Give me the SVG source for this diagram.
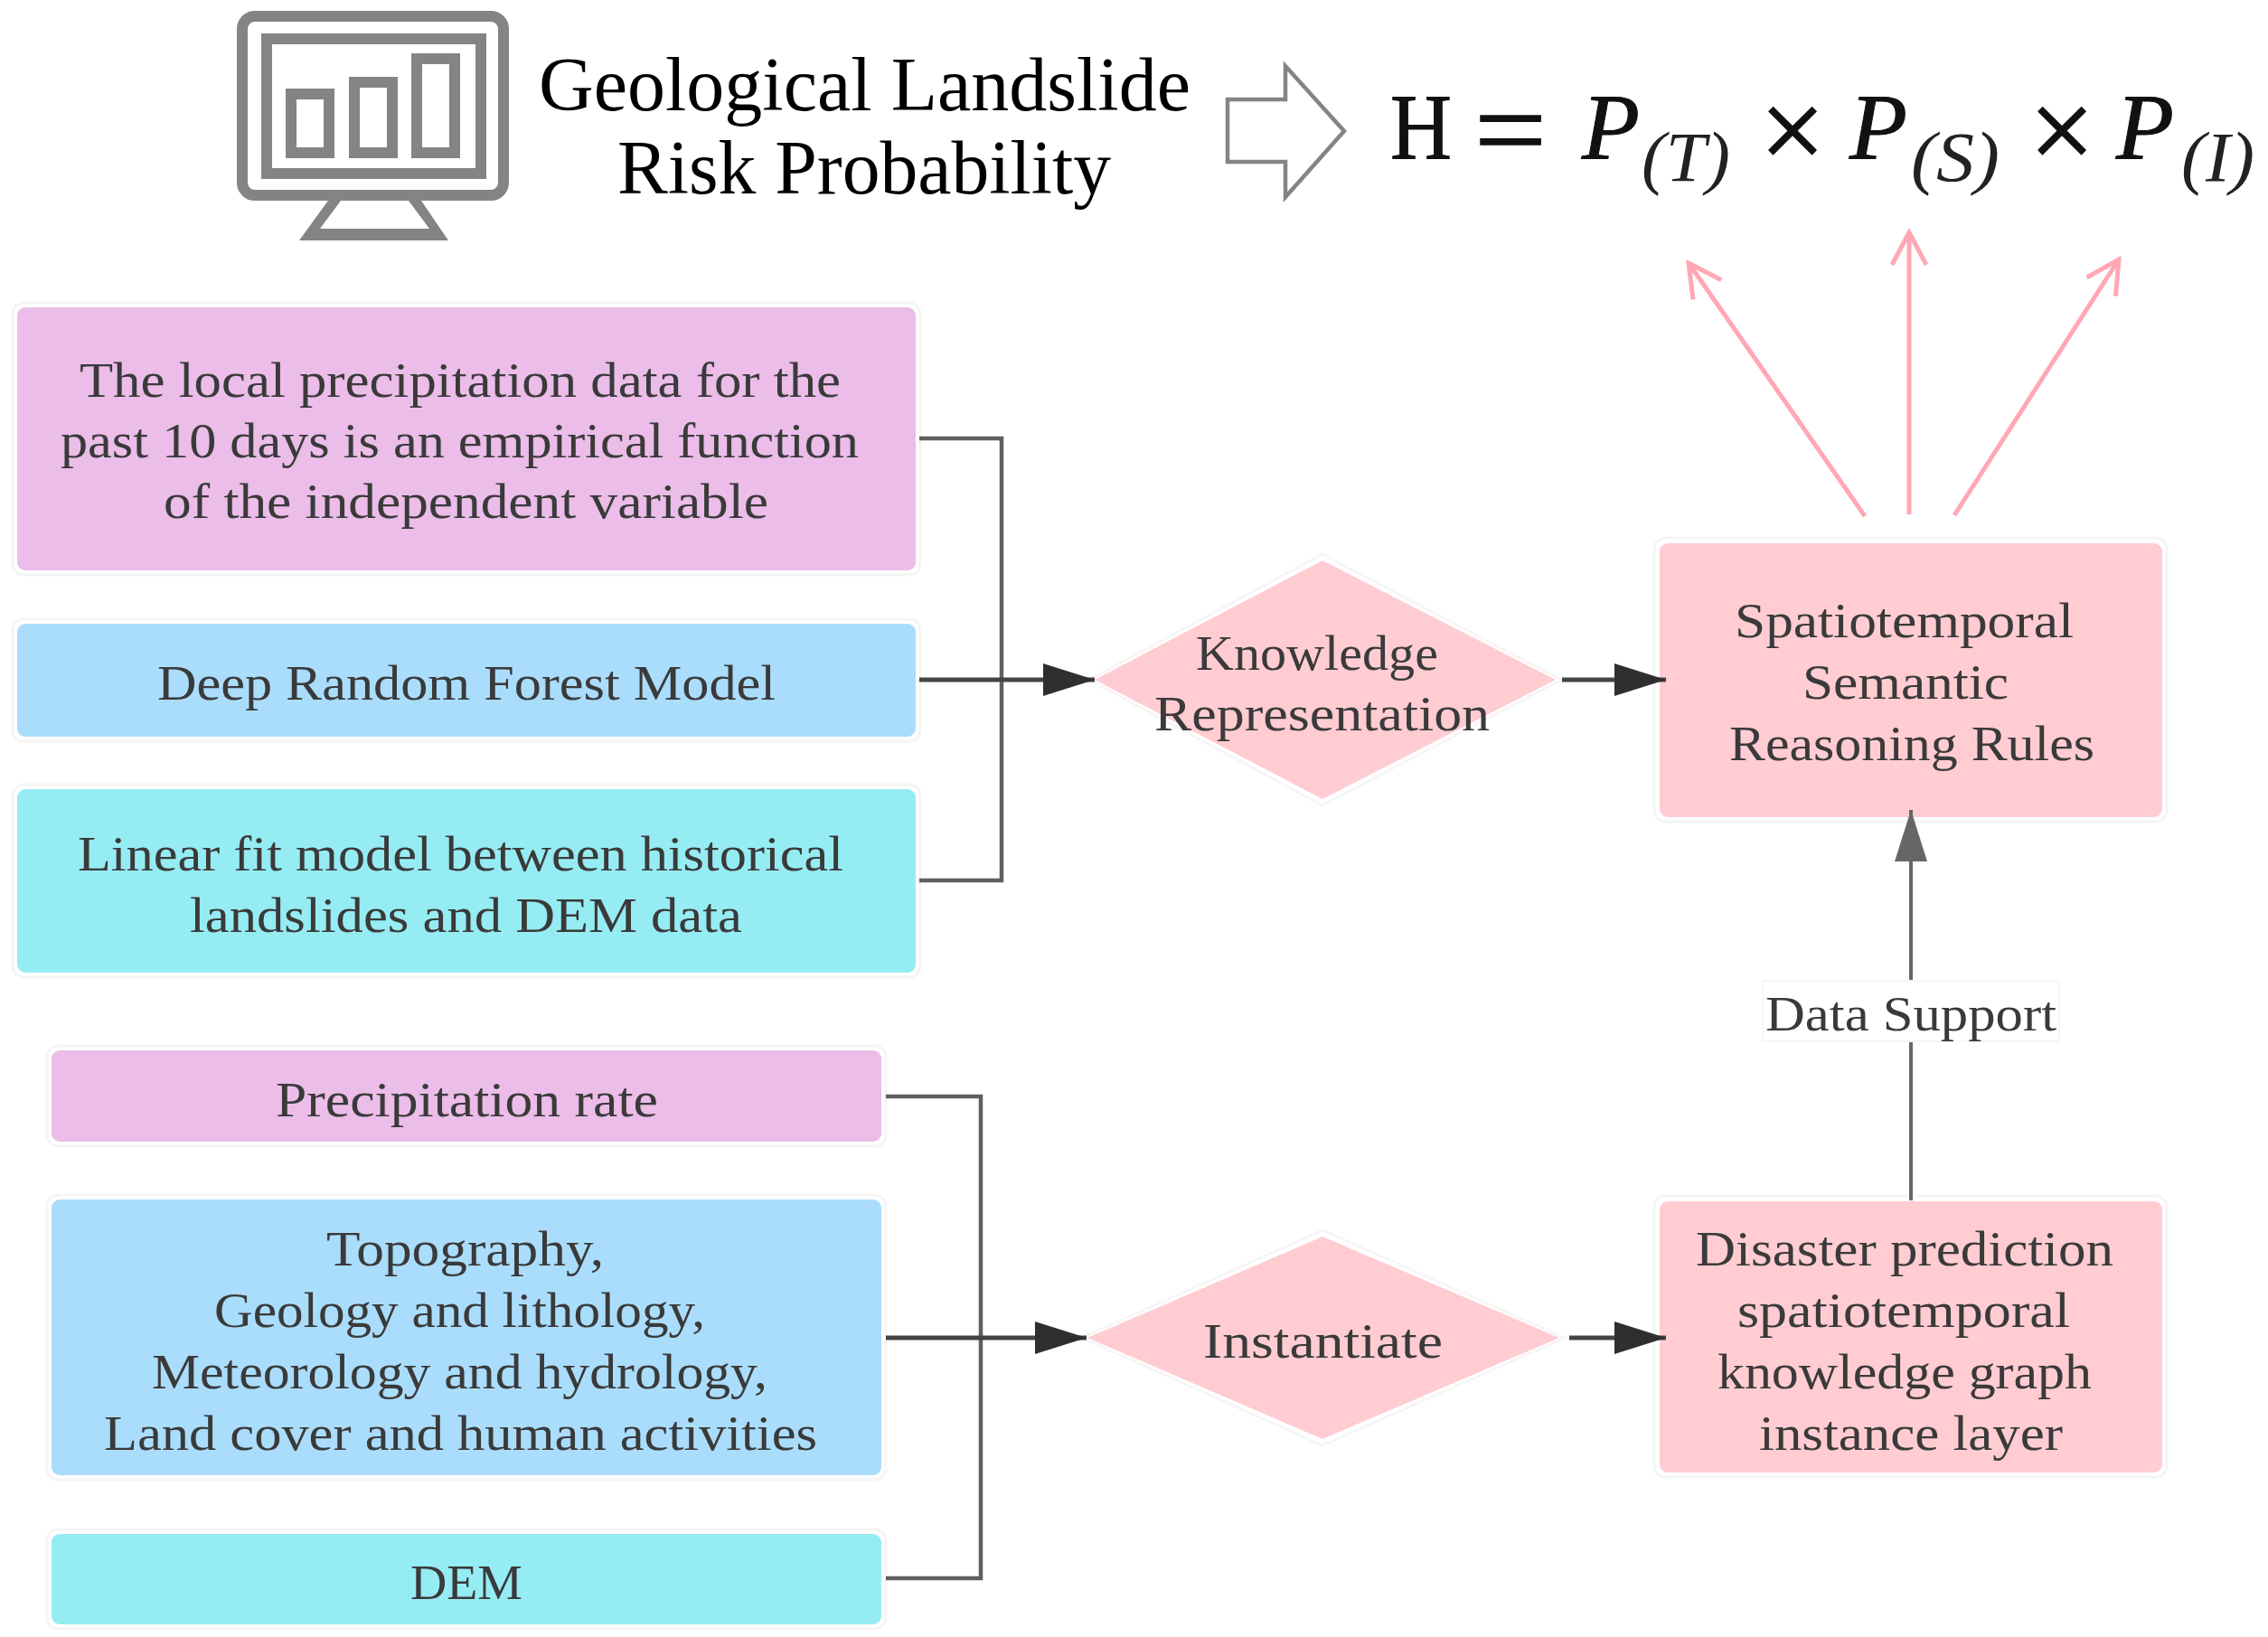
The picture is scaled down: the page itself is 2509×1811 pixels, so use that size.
<svg xmlns="http://www.w3.org/2000/svg" width="2509" height="1811" viewBox="0 0 2509 1811">
<style>
text{font-family:"Liberation Serif","Times New Roman",serif;fill:#3a3a3a;font-size:55px}
.t{fill:#000;font-size:84px}
.f{fill:#111;font-size:103px;stroke:#111;stroke-width:1}
.op{fill:#111;font-size:128px;stroke:#111;stroke-width:1.5}
.fi{fill:#111;font-size:103px;font-style:italic;stroke:#111;stroke-width:1}
.s{fill:#222;font-size:78px;font-style:italic}
.halo{fill:#fff;stroke:#f5f5f5;stroke-width:3}
.pur{fill:#ebbde8}.blu{fill:#aaddfc}.cya{fill:#96ecf3}.pnk{fill:#ffccd2}
.c{fill:none;stroke:#5f5f5f;stroke-width:4.5}
.k{fill:none;stroke:#444;stroke-width:5}
.g{fill:none;stroke:#666;stroke-width:4}
.p{fill:none;stroke:#ffa8b4;stroke-width:5}
.ic{fill:none;stroke:#848484;stroke-width:12}
</style>
<defs>
<marker id="dark" markerUnits="userSpaceOnUse" markerWidth="60" markerHeight="40" refX="58" refY="20" orient="auto"><path d="M1 2L58 20L1 38Z" fill="#2f2f2f"/></marker>
<marker id="grey" markerUnits="userSpaceOnUse" markerWidth="60" markerHeight="40" refX="58" refY="20" orient="auto"><path d="M1 2L58 20L1 38Z" fill="#666"/></marker>
<marker id="open" markerUnits="userSpaceOnUse" markerWidth="44" markerHeight="44" refX="40" refY="22" orient="auto"><path d="M4 3L40 22L4 41" fill="none" stroke="#ffa8b4" stroke-width="5"/></marker>
</defs>
<rect width="2509" height="1811" fill="#fff"/>
<g id="monitor-icon">
<rect class="ic" x="268" y="18" width="289" height="198" rx="14"/>
<rect class="ic" x="295" y="43" width="237" height="149"/>
<rect class="ic" x="322" y="104" width="42" height="65"/>
<rect class="ic" x="392" y="91" width="42" height="78"/>
<rect class="ic" x="461" y="65" width="42" height="104"/>
<path d="M363 222H377L354 253H475L452 222H466L496 266H331Z" fill="#848484"/>
</g>
<g id="title">
<text class="t" x="596" y="122" textLength="721" lengthAdjust="spacingAndGlyphs">Geological Landslide</text>
<text class="t" x="683" y="214" textLength="546" lengthAdjust="spacingAndGlyphs">Risk Probability</text>
</g>
<g id="big-arrow"><path d="M1358 110H1422V73L1487 145L1422 218V179H1358Z" fill="#fff" stroke="#848484" stroke-width="4.5"/></g>
<g id="formula">
<text class="f" x="1538" y="176" textLength="68" lengthAdjust="spacingAndGlyphs">H</text>
<text class="op" x="1631" y="186" textLength="80" lengthAdjust="spacingAndGlyphs">=</text>
<text class="fi" x="1750" y="176" textLength="64" lengthAdjust="spacingAndGlyphs">P</text>
<text class="s" x="1816" y="200" textLength="98" lengthAdjust="spacingAndGlyphs">(T)</text>
<text class="op" x="1947" y="187" textLength="72" lengthAdjust="spacingAndGlyphs">×</text>
<text class="fi" x="2046" y="176" textLength="64" lengthAdjust="spacingAndGlyphs">P</text>
<text class="s" x="2114" y="200" textLength="98" lengthAdjust="spacingAndGlyphs">(S)</text>
<text class="op" x="2245" y="187" textLength="72" lengthAdjust="spacingAndGlyphs">×</text>
<text class="fi" x="2341" y="176" textLength="64" lengthAdjust="spacingAndGlyphs">P</text>
<text class="s" x="2413" y="200" textLength="81" lengthAdjust="spacingAndGlyphs">(I)</text>
</g>
<g id="n-precip-func">
<rect class="halo" x="14" y="335" width="1004" height="301" rx="12"/>
<rect class="pur" x="19" y="340" width="994" height="291" rx="9"/>
<text x="88" y="439" textLength="842" lengthAdjust="spacingAndGlyphs">The local precipitation data for the</text>
<text x="67" y="506" textLength="883" lengthAdjust="spacingAndGlyphs">past 10 days is an empirical function</text>
<text x="181" y="573" textLength="669" lengthAdjust="spacingAndGlyphs">of the independent variable</text>
</g>
<g id="n-random-forest">
<rect class="halo" x="14" y="685" width="1004" height="135" rx="12"/>
<rect class="blu" x="19" y="690" width="994" height="125" rx="9"/>
<text x="174" y="774" textLength="684" lengthAdjust="spacingAndGlyphs">Deep Random Forest Model</text>
</g>
<g id="n-linear-fit">
<rect class="halo" x="14" y="868" width="1004" height="213" rx="12"/>
<rect class="cya" x="19" y="873" width="994" height="203" rx="9"/>
<text x="86" y="963" textLength="847" lengthAdjust="spacingAndGlyphs">Linear fit model between historical</text>
<text x="210" y="1031" textLength="611" lengthAdjust="spacingAndGlyphs">landslides and DEM data</text>
</g>
<g id="n-precip-rate">
<rect class="halo" x="52" y="1157" width="928" height="111" rx="12"/>
<rect class="pur" x="57" y="1162" width="918" height="101" rx="9"/>
<text x="305" y="1235" textLength="423" lengthAdjust="spacingAndGlyphs">Precipitation rate</text>
</g>
<g id="n-topography">
<rect class="halo" x="52" y="1322" width="928" height="315" rx="12"/>
<rect class="blu" x="57" y="1327" width="918" height="305" rx="9"/>
<text x="361" y="1400" textLength="307" lengthAdjust="spacingAndGlyphs">Topography,</text>
<text x="237" y="1468" textLength="543" lengthAdjust="spacingAndGlyphs">Geology and lithology,</text>
<text x="168" y="1536" textLength="681" lengthAdjust="spacingAndGlyphs">Meteorology and hydrology,</text>
<text x="115" y="1604" textLength="789" lengthAdjust="spacingAndGlyphs">Land cover and human activities</text>
</g>
<g id="n-dem">
<rect class="halo" x="52" y="1692" width="928" height="110" rx="12"/>
<rect class="cya" x="57" y="1697" width="918" height="100" rx="9"/>
<text x="454" y="1769" textLength="124" lengthAdjust="spacingAndGlyphs">DEM</text>
</g>
<g id="n-knowledge">
<path d="M1463 613L1727 752L1463 891L1205 752Z" fill="#fff" stroke="#f6f6f6" stroke-width="3"/>
<path class="pnk" d="M1463 620L1721 752L1463 884L1211 752Z"/>
<text x="1323" y="741" textLength="268" lengthAdjust="spacingAndGlyphs">Knowledge</text>
<text x="1277" y="808" textLength="371" lengthAdjust="spacingAndGlyphs">Representation</text>
</g>
<g id="n-instantiate">
<path d="M1463 1361L1731 1480L1463 1599L1197 1480Z" fill="#fff" stroke="#f6f6f6" stroke-width="3"/>
<path class="pnk" d="M1463 1368L1725 1480L1463 1592L1203 1480Z"/>
<text x="1331" y="1502" textLength="265" lengthAdjust="spacingAndGlyphs">Instantiate</text>
</g>
<g id="n-rules">
<rect class="halo" x="1830" y="595" width="567" height="314" rx="12"/>
<rect class="pnk" x="1836" y="601" width="556" height="303" rx="9"/>
<text x="1919" y="705" textLength="375" lengthAdjust="spacingAndGlyphs">Spatiotemporal</text>
<text x="1994" y="773" textLength="228" lengthAdjust="spacingAndGlyphs">Semantic</text>
<text x="1913" y="841" textLength="404" lengthAdjust="spacingAndGlyphs">Reasoning Rules</text>
</g>
<g id="n-instance">
<rect class="halo" x="1830" y="1323" width="567" height="311" rx="12"/>
<rect class="pnk" x="1836" y="1329" width="556" height="300" rx="9"/>
<text x="1876" y="1400" textLength="462" lengthAdjust="spacingAndGlyphs">Disaster prediction</text>
<text x="1922" y="1468" textLength="368" lengthAdjust="spacingAndGlyphs">spatiotemporal</text>
<text x="1900" y="1536" textLength="414" lengthAdjust="spacingAndGlyphs">knowledge graph</text>
<text x="1946" y="1604" textLength="336" lengthAdjust="spacingAndGlyphs">instance layer</text>
</g>
<g id="connectors">
<path class="c" d="M1017 485H1108V974H1017"/>
<path class="k" d="M1017 752H1211" marker-end="url(#dark)"/>
<path class="k" d="M1728 752H1843" marker-end="url(#dark)"/>
<path class="c" d="M980 1213H1085V1746H980"/>
<path class="k" d="M980 1480H1202" marker-end="url(#dark)"/>
<path class="k" d="M1736 1480H1843" marker-end="url(#dark)"/>
<path class="g" d="M2114 1328V896" marker-end="url(#grey)"/>
<path class="p" d="M2063 571L1868 291" marker-end="url(#open)"/>
<path class="p" d="M2112 569V257" marker-end="url(#open)"/>
<path class="p" d="M2162 570L2344 287" marker-end="url(#open)"/>
</g>
<g id="label-data-support">
<rect x="1950" y="1085" width="328" height="67" fill="#fff" stroke="#f5f5f5" stroke-width="2"/>
<text x="1953" y="1140" textLength="322" lengthAdjust="spacingAndGlyphs">Data Support</text>
</g>
</svg>
